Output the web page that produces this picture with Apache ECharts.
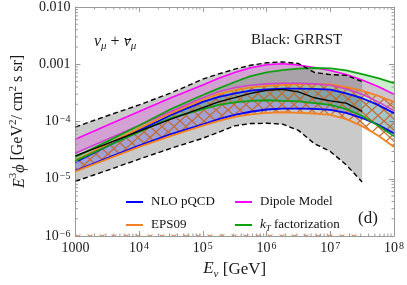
<!DOCTYPE html>
<html><head><meta charset="utf-8">
<script src="https://cdn.jsdelivr.net/npm/echarts@6/dist/echarts.min.js"></script>
<style>html,body{margin:0;padding:0;background:#fff}#c{width:407px;height:285px}</style>
</head><body><div id="c"></div>
<script>
// ---------------- data ----------------
const energies = [1e3, 3.162e3, 1e4, 3.162e4, 1e5, 1.778e5, 3.162e5, 5.623e5, 1e6, 1.778e6, 3.162e6, 5.623e6, 1e7, 1.778e7, 3.162e7, 5.623e7, 1e8];
// GRRST (black) band, ends at ~3e7
const grrstHi  = [8.0e-5, 1.26e-4, 1.95e-4, 3.15e-4, 5.5e-4, 6.8e-4, 8.2e-4, 9.6e-4, 1.06e-3, 1.10e-3, 1.03e-3, 7.2e-4, 6.6e-4, 6.4e-4, 5.0e-4];
const grrstMid = [2.5e-5, 4.1e-5, 6.8e-5, 1.1e-4, 1.75e-4, 2.2e-4, 2.6e-4, 3.1e-4, 3.5e-4, 3.65e-4, 3.3e-4, 2.6e-4, 2.3e-4, 2.1e-4, 1.5e-4];
const grrstLo  = [9.0e-6, 1.4e-5, 2.2e-5, 3.4e-5, 5.1e-5, 6.5e-5, 8.4e-5, 9.2e-5, 9.3e-5, 9.0e-5, 7.0e-5, 4.1e-5, 3.0e-5, 1.75e-5, 8.8e-6];
// Dipole Model (magenta)
const dipHi = [4.9e-5, 8.6e-5, 1.5e-4, 2.6e-4, 4.35e-4, 5.7e-4, 7.2e-4, 8.7e-4, 9.8e-4, 1.02e-3, 9.7e-4, 8.8e-4, 7.8e-4, 6.6e-4, 5.3e-4, 4.1e-4, 3.0e-4];
const dipLo = [2.8e-5, 4.9e-5, 8.5e-5, 1.5e-4, 2.6e-4, 3.3e-4, 3.9e-4, 4.3e-4, 4.55e-4, 4.65e-4, 4.65e-4, 4.55e-4, 4.3e-4, 3.7e-4, 3.0e-4, 2.2e-4, 1.55e-4];
// kT factorization (green)
const ktHi = [2.4e-5, 4.5e-5, 8.5e-5, 1.65e-4, 2.9e-4, 3.8e-4, 4.9e-4, 6.2e-4, 7.2e-4, 7.9e-4, 8.4e-4, 8.6e-4, 8.5e-4, 7.8e-4, 6.7e-4, 5.7e-4, 4.7e-4];
const ktLo = [2.05e-5, 3.7e-5, 6.6e-5, 1.15e-4, 1.65e-4, 1.95e-4, 2.15e-4, 2.3e-4, 2.35e-4, 2.3e-4, 2.25e-4, 2.1e-4, 1.95e-4, 1.65e-4, 1.25e-4, 8.5e-5, 5.5e-5];
// NLO pQCD (blue)
const nloHi = [1.95e-5, 3.7e-5, 7.0e-5, 1.3e-4, 2.2e-4, 2.7e-4, 3.1e-4, 3.45e-4, 3.65e-4, 3.75e-4, 3.75e-4, 3.7e-4, 3.6e-4, 3.1e-4, 2.55e-4, 1.95e-4, 1.4e-4];
const nloLo = [1.38e-5, 2.3e-5, 3.8e-5, 6.0e-5, 8.9e-5, 1.1e-4, 1.3e-4, 1.48e-4, 1.62e-4, 1.68e-4, 1.68e-4, 1.66e-4, 1.6e-4, 1.42e-4, 1.15e-4, 8.8e-5, 6.2e-5];
// EPS09 (orange, hatched)
const epsHi = [2.1e-5, 4.0e-5, 7.6e-5, 1.4e-4, 2.4e-4, 3.0e-4, 3.55e-4, 3.95e-4, 4.2e-4, 4.35e-4, 4.45e-4, 4.5e-4, 4.45e-4, 4.0e-4, 3.45e-4, 2.8e-4, 2.2e-4];
const epsLo = [1.35e-5, 2.2e-5, 3.6e-5, 5.6e-5, 8.5e-5, 1.03e-4, 1.2e-4, 1.33e-4, 1.42e-4, 1.45e-4, 1.42e-4, 1.38e-4, 1.3e-4, 1.1e-4, 8.3e-5, 5.7e-5, 3.6e-5];

const xTicks = [1e3, 1e4, 1e5, 1e6, 1e7, 1e8];
const xTickText = ['1000', '10{sup|4}', '10{sup|5}', '10{sup|6}', '10{sup|7}', '10{sup|8}'];
const yTicks = [1e-6, 1e-5, 1e-4, 1e-3, 1e-2];
const yTickText = ['10{sup|\u22126}', '10{sup|\u22125}', '10{sup|\u22124}', '0.001', '0.010'];

// ---------------- chart ----------------
const FONT = '"Liberation Serif", "DejaVu Serif", serif';
const FRAME = '#9a9a9a';
const pair = arr => arr.map((v, i) => [energies[i], v]);

const hatch = document.createElement('canvas');
hatch.width = 12; hatch.height = 11;
(function () {
  const g = hatch.getContext('2d');
  g.strokeStyle = 'rgb(200,104,40)';
  g.lineWidth = 1.25;
  g.beginPath();
  g.moveTo(-1.2, -1.1); g.lineTo(13.2, 12.1);
  g.moveTo(13.2, -1.1); g.lineTo(-1.2, 12.1);
  g.stroke();
})();
const hatchFill = { image: hatch, repeat: 'repeat' };

function band(hi, lo, fill, z) {
  return {
    type: 'custom', coordinateSystem: 'cartesian2d', z: z, silent: true,
    data: [[energies[0], hi[0]]], encode: { x: 0, y: 1 },
    renderItem: function (params, api) {
      const pts = [];
      for (let i = 0; i < hi.length; i++) pts.push(api.coord([energies[i], hi[i]]));
      for (let i = lo.length - 1; i >= 0; i--) pts.push(api.coord([energies[i], lo[i]]));
      return { type: 'polygon', shape: { points: pts }, style: { fill: fill } };
    }
  };
}
function line(name, arr, color, width, type, z) {
  return {
    type: 'line', name: name, data: pair(arr), showSymbol: false, symbol: 'none',
    color: color, z: z || 5, silent: true,
    lineStyle: { color: color, width: width, type: type || 'solid' }
  };
}
// hatch fragments visible along the bottom frame, up to the end of the GRRST band
const bottomHatch = {
  type: 'custom', coordinateSystem: 'cartesian2d', z: 4, silent: true,
  data: [[1e3, 1e-6]], encode: { x: 0, y: 1 },
  renderItem: function (params, api) {
    const a = api.coord([1e3, 1e-6]), b = api.coord([energies[grrstHi.length - 1], 1e-6]);
    return { type: 'rect', shape: { x: a[0], y: a[1] - 1.6, width: b[0] - a[0], height: 1.6 }, style: { fill: hatchFill, opacity: 0.8 } };
  }
};
const minorTicks = {
  type: 'custom', coordinateSystem: 'cartesian2d', z: 10, silent: true,
  data: [[1e3, 1e-6]], encode: { x: 0, y: 1 },
  renderItem: function (params, api) {
    const ch = [];
    const bl = api.coord([1e3, 1e-6]), tr = api.coord([1e8, 1e-2]);
    const seg = (x1, y1, x2, y2) => ({ type: 'line', shape: { x1, y1, x2, y2 }, style: { stroke: FRAME, lineWidth: 1 } });
    for (let d = 3; d < 8; d++) for (let k = 2; k < 10; k++) {
      const x = api.coord([k * Math.pow(10, d), 1e-6])[0];
      ch.push(seg(x, bl[1], x, bl[1] - 2.5), seg(x, tr[1], x, tr[1] + 2.5));
    }
    for (let d = -6; d < -2; d++) for (let k = 2; k < 10; k++) {
      const y = api.coord([1e3, k * Math.pow(10, d)])[1];
      ch.push(seg(bl[0], y, bl[0] + 2.5, y), seg(tr[0], y, tr[0] - 2.5, y));
    }
    return { type: 'group', children: ch };
  }
};

// measure the flavour label so the antineutrino bar sits over the second nu
const mctx = document.createElement('canvas').getContext('2d');
function tw(font, s) { mctx.font = font; return mctx.measureText(s).width; }
const NU_X = 94;
const iF = 'italic 16px ' + FONT, sF = 'italic 11px ' + FONT, nF = '16px ' + FONT;
const nuBarX = NU_X + tw(iF, '\u03bd') + tw(sF, '\u03bc') + tw(nF, ' + ');
const nuBarW = tw(iF, '\u03bd');

const supRich = { sup: { fontSize: 10, fontFamily: FONT, color: '#1a1a1a', verticalAlign: 'top', lineHeight: 10, padding: [0, 0, 0, 1] } };
const baseAxis = {
  type: 'log', logBase: 10,
  axisLine: { show: true, lineStyle: { color: FRAME, width: 1 } },
  axisTick: { show: true, inside: true, length: 5, lineStyle: { color: FRAME } },
  splitLine: { show: false }, minorTick: { show: false }
};
const xLabel = v => { const i = xTicks.findIndex(t => Math.abs(Math.log10(t) - Math.log10(v)) < 1e-6); return i < 0 ? '' : xTickText[i]; };
const yLabel = v => { const i = yTicks.findIndex(t => Math.abs(Math.log10(t) - Math.log10(v)) < 1e-6); return i < 0 ? '' : yTickText[i]; };

const legendText = { fontFamily: FONT, fontSize: 13, color: '#111', lineHeight: 16, padding: [0, 0, 0, 3] };
const option = {
  animation: false,
  backgroundColor: '#fff',
  grid: { left: 62, right: 10, top: 6, bottom: 47, containLabel: false },
  xAxis: [
    Object.assign({}, baseAxis, {
      min: 1e3, max: 1e8, splitNumber: 5, position: 'bottom',
      axisLabel: { formatter: xLabel, fontFamily: FONT, fontSize: 14, color: '#1a1a1a', margin: 5, rich: supRich, showMinLabel: true, showMaxLabel: true },
      name: '{i|E}{sub|\u03bd} [GeV]', nameLocation: 'middle', nameGap: 24,
      nameTextStyle: { fontFamily: FONT, fontSize: 17, color: '#1a1a1a', rich: {
        i: { fontStyle: 'italic', fontSize: 17, fontFamily: FONT, lineHeight: 20, verticalAlign: 'top' },
        sub: { fontStyle: 'italic', fontSize: 11, fontFamily: FONT, verticalAlign: 'bottom', lineHeight: 20 } } }
    }),
    Object.assign({}, baseAxis, { min: 1e3, max: 1e8, splitNumber: 5, position: 'top', axisLabel: { show: false } })
  ],
  yAxis: [
    Object.assign({}, baseAxis, {
      min: 1e-6, max: 1e-2, splitNumber: 4, position: 'left',
      axisLabel: { formatter: yLabel, fontFamily: FONT, fontSize: 14, color: '#1a1a1a', margin: 5, rich: supRich, showMinLabel: true, showMaxLabel: true },
      name: '{i|E}{sup|3}{i|\u03d5} [GeV{sup|2}/ cm{sup|2} s sr]', nameLocation: 'middle', nameGap: 40,
      nameTextStyle: { fontFamily: FONT, fontSize: 16, color: '#1a1a1a', rich: {
        i: { fontStyle: 'italic', fontSize: 16, fontFamily: FONT, lineHeight: 20, verticalAlign: 'bottom' },
        sup: { fontSize: 11, fontFamily: FONT, verticalAlign: 'top', lineHeight: 20 } } }
    }),
    Object.assign({}, baseAxis, { min: 1e-6, max: 1e-2, splitNumber: 4, position: 'right', axisLabel: { show: false } })
  ],
  legend: [
    { data: ['NLO pQCD', 'EPS09'], orient: 'vertical', left: 121, top: 189, icon: 'rect', itemWidth: 17, itemHeight: 2, itemGap: 7,
      textStyle: legendText },
    { data: ['Dipole Model', 'kT factorization'], orient: 'vertical', left: 230, top: 189, icon: 'rect', itemWidth: 17, itemHeight: 2, itemGap: 7,
      formatter: n => n === 'kT factorization' ? '{i|k}{s|T} factorization' : n,
      textStyle: Object.assign({}, legendText, { rich: {
        i: { fontStyle: 'italic', fontFamily: FONT, fontSize: 13, lineHeight: 16 },
        s: { fontStyle: 'italic', fontFamily: FONT, fontSize: 9, lineHeight: 16, verticalAlign: 'bottom' } } }) }
  ],
  graphic: [
    { type: 'text', left: NU_X, top: 34, silent: true, style: {
      text: '{i|\u03bd}{s|\u03bc}{n| + }{i|\u03bd}{s|\u03bc}',
      rich: {
        i: { fontStyle: 'italic', fontFamily: FONT, fontSize: 16, fill: '#1a1a1a', lineHeight: 20 },
        n: { fontFamily: FONT, fontSize: 16, fill: '#1a1a1a', lineHeight: 20 },
        s: { fontStyle: 'italic', fontFamily: FONT, fontSize: 11, fill: '#1a1a1a', lineHeight: 20, verticalAlign: 'bottom' } } } },
    { type: 'line', silent: true, shape: { x1: nuBarX + 1.5, y1: 39.5, x2: nuBarX + nuBarW + 0.5, y2: 39.5 }, style: { stroke: '#1a1a1a', lineWidth: 1 } },
    { type: 'text', left: 251, top: 33, silent: true, style: { text: 'Black: GRRST', font: '15px ' + FONT, fill: '#1a1a1a' } },
    { type: 'text', left: 358, top: 210, silent: true, style: { text: '(d)', font: '17px ' + FONT, fill: '#1a1a1a' } }
  ],
  series: [
    band(grrstHi, grrstLo, 'rgba(150,150,150,0.5)', 1),
    band(dipHi, dipLo, 'rgba(255,0,255,0.2)', 2),
    band(nloHi, nloLo, 'rgba(0,0,255,0.2)', 2),
    band(ktHi, ktLo, 'rgba(0,170,0,0.2)', 2),
    band(epsHi, epsLo, hatchFill, 3),
    bottomHatch,
    line('NLO pQCD', nloHi, '#0000ff', 1.8),
    line('NLO pQCD', nloLo, '#0000ff', 1.8),
    line('EPS09', epsHi, '#f58220', 1.8),
    line('EPS09', epsLo, '#f58220', 1.8),
    line('Dipole Model', dipHi, '#ff00ff', 1.6),
    line('Dipole Model', dipLo, '#d040d0', 1.6),
    line('kT factorization', ktHi, '#10a010', 1.8),
    line('kT factorization', ktLo, '#10a010', 1.8),
    line('GRRST high', grrstHi, '#000', 1.4, [5, 3], 6),
    line('GRRST low', grrstLo, '#000', 1.4, [5, 3], 6),
    line('GRRST', grrstMid, '#000', 1.3, 'solid', 6),
    minorTicks
  ]
};
const chart = echarts.init(document.getElementById('c'), null, { renderer: 'canvas' });
chart.setOption(option);
</script></body></html>
